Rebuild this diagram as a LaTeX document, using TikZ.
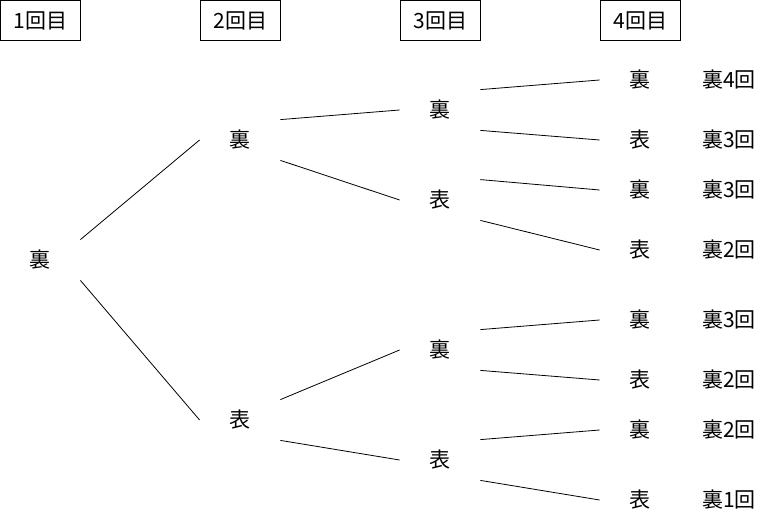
\documentclass[tikz,border=0pt]{standalone}
\usepackage{fontspec}
\setmainfont{Noto Sans CJK JP}
\usepackage{tikz}

\begin{document}
\begin{tikzpicture}[
		x=1pt, y=-1pt,
		every node/.style={rectangle, minimum width=80pt, minimum height=40pt, inner sep=0pt, font=\fontsize{21}{24}\selectfont},
		head/.style={draw, line width=0.8pt},
		every path/.style={line width=0.8pt}
	]
  \useasboundingbox (0,0) rectangle (771,521);
  \node (h1) [head] at (40.5, 20.5) {1回目};
  \node (h2) [head] at (240.5, 20.5) {2回目};
  \node (h3) [head] at (440.5, 20.5) {3回目};
  \node (h4) [head] at (640.5, 20.5) {4回目};
  \node (ura1) at (40, 260) {裏};
  \node (ura2) at (240, 140) {裏};
  \node (omo2) at (240, 420) {表};
  \node (ura3a) at (440, 110) {裏};
  \node (omo3a) at (440, 200) {表};
  \node (ura3b) at (440, 350) {裏};
  \node (omo3b) at (440, 460) {表};
  \node (ura4a) at (640, 80) {裏};
  \node (omo4a) at (640, 140) {表};
  \node (ura4b) at (640, 190) {裏};
  \node (omo4b) at (640, 250) {表};
  \node (ura4c) at (640, 320) {裏};
  \node (omo4c) at (640, 380) {表};
  \node (ura4d) at (640, 430) {裏};
  \node (omo4d) at (640, 500) {表};
  \node (n_a) at (729, 80) {裏4回};
  \node (n_b) at (729, 140) {裏3回};
  \node (n_c) at (729, 190) {裏3回};
  \node (n_d) at (729, 250) {裏2回};
  \node (n_e) at (729, 320) {裏3回};
  \node (n_f) at (729, 380) {裏2回};
  \node (n_g) at (729, 430) {裏2回};
  \node (n_h) at (729, 500) {裏1回};
  \draw (ura1.north east) -- (ura2.west);
  \draw (ura1.south east) -- (omo2.west);
  \draw (ura2.north east) -- (ura3a.west);
  \draw (ura2.south east) -- (omo3a.west);
  \draw (omo2.north east) -- (ura3b.west);
  \draw (omo2.south east) -- (omo3b.west);
  \draw (ura3a.north east) -- (ura4a.west);
  \draw (ura3a.south east) -- (omo4a.west);
  \draw (omo3a.north east) -- (ura4b.west);
  \draw (omo3a.south east) -- (omo4b.west);
  \draw (ura3b.north east) -- (ura4c.west);
  \draw (ura3b.south east) -- (omo4c.west);
  \draw (omo3b.north east) -- (ura4d.west);
  \draw (omo3b.south east) -- (omo4d.west);
\end{tikzpicture}
\end{document}
